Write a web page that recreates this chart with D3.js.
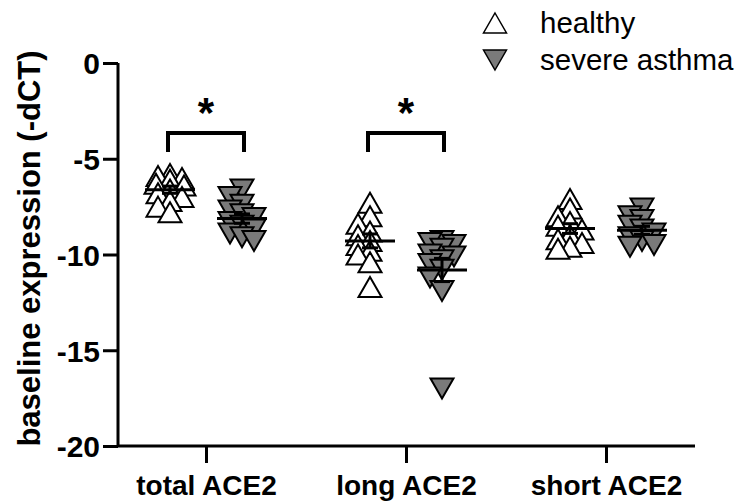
<!DOCTYPE html>
<html><head><meta charset="utf-8">
<script src="https://cdn.jsdelivr.net/npm/d3@7"></script>
<style>body{margin:0;background:#fff}svg{display:block}text{font-family:"Liberation Sans",Arial,sans-serif}</style>
</head><body><svg id="c" width="743" height="504"></svg>
<script>
const categories = ["total ACE2", "long ACE2", "short ACE2"];
const groups = ["healthy", "severe asthma"];
const yTicks = [0, -5, -10, -15, -20];
const healthyTotal = [-5.8, -5.9, -6.0, -6.1, -6.3, -6.4, -6.6, -6.8, -7.0, -7.2, -7.5, -7.8];
const asthmaTotal  = [-6.6, -7.0, -7.4, -7.7, -7.9, -8.1, -8.3, -8.5, -8.7, -8.9, -9.1, -9.3];
const healthyLong  = [-7.3, -8.0, -8.4, -8.8, -9.0, -9.3, -9.5, -9.8, -10.0, -10.4, -11.7];
const asthmaLong   = [-9.3, -9.4, -9.5, -9.7, -10.0, -10.1, -10.3, -10.5, -10.8, -11.2, -11.9, -17.0];
const healthyShort = [-7.1, -7.6, -8.0, -8.3, -8.5, -8.7, -9.0, -9.2, -9.4, -9.6, -9.7];
const asthmaShort  = [-7.6, -8.0, -8.2, -8.5, -8.7, -8.9, -9.1, -9.3, -9.5, -9.6];
const significant = ["total ACE2", "long ACE2"];

const series = [
  {cat: "total ACE2", g: "healthy", v: healthyTotal},
  {cat: "total ACE2", g: "severe asthma", v: asthmaTotal},
  {cat: "long ACE2", g: "healthy", v: healthyLong},
  {cat: "long ACE2", g: "severe asthma", v: asthmaLong},
  {cat: "short ACE2", g: "healthy", v: healthyShort},
  {cat: "short ACE2", g: "severe asthma", v: asthmaShort}
];

const svg = d3.select("#c");
const X0 = 118, X1 = 695, Y0 = 63, Y1 = 446;
const y = d3.scaleLinear().domain([0, -20]).range([Y0, Y1]);
const x = d3.scalePoint().domain(categories).range([206, 606]);
const gx = d3.scalePoint().domain(groups).range([-36, 36]);

const TW = 23, TH = 20;
const upTri = `M0,${-TH/2}L${TW/2},${TH/2}L${-TW/2},${TH/2}Z`;
const downTri = `M0,${TH/2}L${TW/2},${-TH/2}L${-TW/2},${-TH/2}Z`;
const fillOf = g => g === "healthy" ? "#fff" : "#7a7a7a";
const pathOf = g => g === "healthy" ? upTri : downTri;

series.forEach(s => {
  const cx = x(s.cat) + gx(s.g);
  const placed = [];
  const cand = [0, -9, 9, -14, 14, -5, 5, -12, 12];
  const pts = s.v.map(v => ({v, py: y(v)}));
  pts.forEach(p => {
    let best = 0, bestScore = Infinity;
    cand.forEach(o => {
      let sc = 0;
      placed.forEach(q => {
        const dx = Math.abs(o - q.o), dy = Math.abs(p.py - q.py);
        if (dx < 10 && dy < 8) sc += (10 - dx) + (8 - dy);
      });
      sc += Math.abs(o) * 0.05;
      if (sc < bestScore) { bestScore = sc; best = o; }
    });
    p.o = best; placed.push(p);
  });
  svg.append("g").selectAll("path").data(pts).join("path")
    .attr("d", pathOf(s.g))
    .attr("transform", p => `translate(${cx + p.o},${p.py})`)
    .attr("fill", fillOf(s.g)).attr("stroke", "#000").attr("stroke-width", 2)
    .attr("stroke-linejoin", "miter");
  const m = d3.mean(s.v);
  const sem = d3.deviation(s.v) / Math.sqrt(s.v.length);
  const eg = svg.append("g").attr("stroke", "#000").attr("stroke-width", 3);
  eg.append("line").attr("x1", cx - 25).attr("x2", cx + 25).attr("y1", y(m)).attr("y2", y(m));
  eg.append("line").attr("x1", cx).attr("x2", cx).attr("y1", y(m - sem)).attr("y2", y(m + sem));
  eg.append("line").attr("x1", cx - 8).attr("x2", cx + 8).attr("y1", y(m - sem)).attr("y2", y(m - sem));
  eg.append("line").attr("x1", cx - 8).attr("x2", cx + 8).attr("y1", y(m + sem)).attr("y2", y(m + sem));
});

const ya = svg.append("g").attr("transform", `translate(${X0},0)`)
  .call(d3.axisLeft(y).tickValues(yTicks).tickSize(15).tickPadding(3).tickFormat(d => String(d)));
ya.select(".domain").attr("d", `M0,${Y0}V${Y1}`);
const xa = svg.append("g").attr("transform", `translate(0,${Y1})`)
  .call(d3.axisBottom(x).tickSize(17).tickPadding(12));
xa.select(".domain").attr("d", `M${X0},0H${X1}`);
[ya, xa].forEach(a => {
  a.selectAll(".domain, line").attr("stroke", "#000").attr("stroke-width", 3);
  a.selectAll("text").attr("fill", "#000").style("font-weight", "bold")
    .style("font-family", '"Liberation Sans",Arial,sans-serif');
});
ya.selectAll("text").style("font-size", "30px").attr("dy", "0.36em");
xa.selectAll("text").style("font-size", "28px").attr("dy", "0.71em");

svg.append("text").attr("transform", `translate(40,${(Y0 + Y1) / 2 - 6}) rotate(-90)`)
  .attr("text-anchor", "middle").style("font-size", "31px").style("font-weight", "bold")
  .text("baseline expression (-dCT)");

significant.forEach(c => {
  const a = x(c) + gx("healthy"), b = x(c) + gx("severe asthma");
  svg.append("path").attr("d", `M${a - 2},152V133H${b + 2}V152`)
    .attr("fill", "none").attr("stroke", "#000").attr("stroke-width", 4);
  svg.append("text").attr("x", (a + b) / 2).attr("y", 127).attr("text-anchor", "middle")
    .style("font-size", "42px").style("font-weight", "bold").text("*");
});

const lg = svg.append("g");
groups.forEach((g, i) => {
  const cy = 23 + i * 37;
  lg.append("path").attr("d", pathOf(g)).attr("transform", `translate(495,${cy})`)
    .attr("fill", fillOf(g)).attr("stroke", "#000").attr("stroke-width", 1.5);
  lg.append("text").attr("x", 540).attr("y", cy + 10).style("font-size", "29.5px").text(g);
});
</script></body></html>
